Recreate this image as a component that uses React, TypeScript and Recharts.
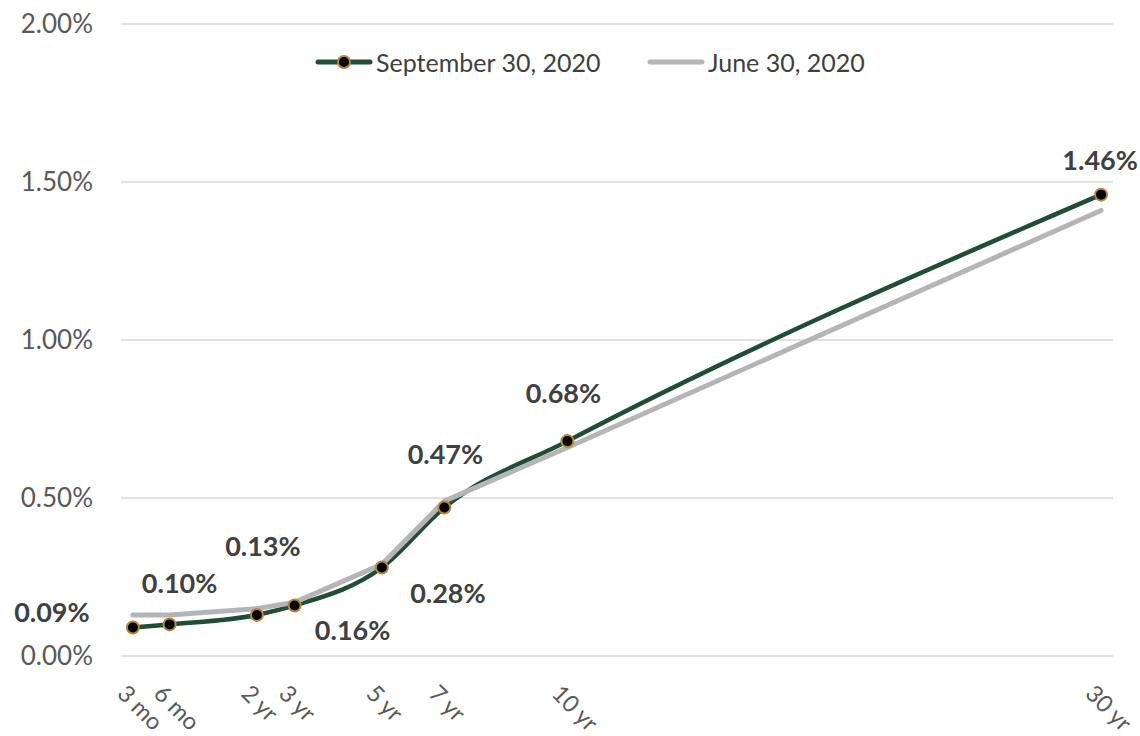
import { LineChart, Line, XAxis, YAxis, CartesianGrid, Legend, LabelList } from "recharts";

// tenor labels and where they sit on the horizontal scale (0–100)
const tenors = ["3 mo", "6 mo", "2 yr", "3 yr", "5 yr", "7 yr", "10 yr", "30 yr"];
const tenorPos = [1.2, 4.9, 13.7, 17.5, 26.3, 32.6, 45.0, 98.8];

// yields in %
const sep2020 = [0.09, 0.1, 0.13, 0.16, 0.28, 0.47, 0.68, 1.46];
const jun2020 = [0.13, 0.13, 0.15, 0.17, 0.29, 0.49, 0.66, 1.41];

const yTicks = [0, 0.5, 1, 1.5, 2];

const data = tenors.map((t, i) => ({ tenor: t, pos: tenorPos[i], sep: sep2020[i], jun: jun2020[i] }));

// hand-placed data label offsets (px from the point to the label centre), like the Excel original
const labelOffsets = [
  [-81, -16],
  [10, -42],
  [6, -69],
  [58, 24],
  [66, 25],
  [1, -54],
  [-4, -49],
  [-1, -35],
];

const GREEN = "#1f4d36";
const GRAY = "#b5b5b5";
const GOLD = "#b8863a";

const SepLabel = (props: any) => {
  const { x, y, index, value } = props;
  const [dx, dy] = labelOffsets[index] || [0, -20];
  return (
    <text
      x={x + dx}
      y={y + dy}
      textAnchor="middle"
      dominantBaseline="central"
      fontSize={27}
      fontWeight={700}
      fill="#404040"
    >
      {Number(value).toFixed(2) + "%"}
    </text>
  );
};

const XTick = (props: any) => {
  const { x, y, index } = props;
  const ax = x - 17;
  const ay = y + 39;
  return (
    <text x={ax} y={ay} transform={`rotate(45, ${ax}, ${ay})`} textAnchor="start" fontSize={23.5} fill="#595959">
      {tenors[index]}
    </text>
  );
};

const legendItems = [
  { name: "September 30, 2020", color: GREEN, dot: true, left: 314 },
  { name: "June 30, 2020", color: GRAY, dot: false, left: 646 },
];

const renderLegend = () => (
  <div style={{ position: "relative", height: 30, width: 1140 }}>
    {legendItems.map((it) => (
      <div
        key={it.name}
        style={{ position: "absolute", left: it.left, top: 0, height: 30, display: "flex", alignItems: "center" }}
      >
        <svg width={60} height={30}>
          <line x1={4} y1={15} x2={56} y2={15} stroke={it.color} strokeWidth={5} strokeLinecap="round" />
          {it.dot && <circle cx={30} cy={15} r={6} fill="#000" stroke={GOLD} strokeWidth={2} />}
        </svg>
        <span style={{ fontSize: 25, color: "#404040", marginLeft: 2, whiteSpace: "nowrap" }}>{it.name}</span>
      </div>
    ))}
  </div>
);

export default function App() {
  return (
    <div
      style={{
        position: "absolute",
        left: 0,
        top: 0,
        width: 1140,
        height: 736,
        background: "#fff",
        fontFamily: "Lato, 'Open Sans', sans-serif",
      }}
    >
      <LineChart width={1140} height={736} data={data} margin={{ top: 24, right: 27, bottom: 0, left: 0 }}>
        <CartesianGrid vertical={false} stroke="#d9d9d9" strokeWidth={1.5} />
        <XAxis
          type="number"
          dataKey="pos"
          domain={[0, 100]}
          ticks={tenorPos}
          interval={0}
          axisLine={false}
          tickLine={false}
          tickSize={0}
          tickMargin={0}
          height={80}
          tick={<XTick />}
        />
        <YAxis
          type="number"
          domain={[0, 2]}
          ticks={yTicks}
          axisLine={false}
          tickLine={false}
          tickSize={0}
          tickMargin={28}
          width={121}
          tick={{ fill: "#595959", fontSize: 26 }}
          tickFormatter={(v: number) => v.toFixed(2) + "%"}
        />
        <Legend
          verticalAlign="middle"
          align="center"
          content={renderLegend}
          wrapperStyle={{ position: "absolute", top: 47, left: 0, width: 1140, height: 30 }}
        />
        <Line
          type="monotone"
          dataKey="sep"
          name="September 30, 2020"
          stroke={GREEN}
          strokeWidth={4.5}
          dot={{ r: 6, fill: "#000", stroke: GOLD, strokeWidth: 2 }}
          activeDot={false}
          isAnimationActive={false}
        >
          <LabelList dataKey="sep" content={<SepLabel />} />
        </Line>
        <Line
          type="linear"
          dataKey="jun"
          name="June 30, 2020"
          stroke={GRAY}
          strokeWidth={5}
          strokeLinecap="round"
          dot={false}
          activeDot={false}
          isAnimationActive={false}
        />
      </LineChart>
    </div>
  );
}
